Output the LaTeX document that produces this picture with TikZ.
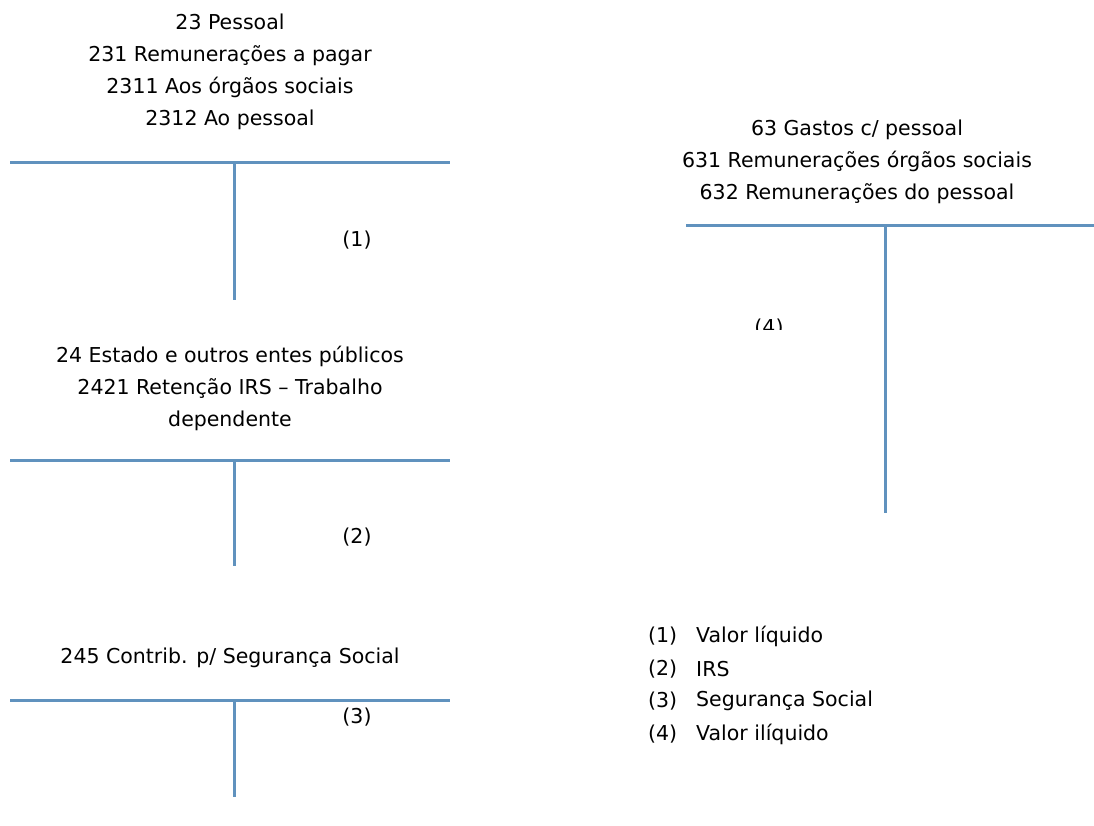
\documentclass[tikz,border=0pt]{standalone}
\usepackage{fontspec}
\setmainfont{DejaVu Sans}
\usetikzlibrary{positioning}
\definecolor{tline}{RGB}{96,146,190}

\begin{document}
\begin{tikzpicture}[x=1pt,y=-1pt,
                    title/.style = {align=center, inner sep=0pt, font=\fontsize{20.5}{32}\selectfont},
                    ref/.style = {inner sep=0pt, font=\fontsize{20.5}{32}\selectfont},
                    tbar/.style = {draw=tline, line width=3pt}]
                        \useasboundingbox (0,0) rectangle (1094,825);

                        % 23 Pessoal
                        \node[title](t23) at (230,72) {23 Pessoal\\231 Remunerações a pagar\\2311 Aos órgãos sociais\\2312 Ao pessoal};
                        \coordinate (l23) at (10,162);\coordinate (r23) at (450,162);
                        \coordinate (m23) at (234,162);\coordinate (b23) at (234,300);
                        \draw[tbar] (l23) -- (r23);\draw[tbar] (m23) -- (b23);
                        \node[ref](c1) at (357,240) {(1)};

                        % 24 Estado
                        \node[title](t24) at (230,388) {24 Estado e outros entes públicos\\2421 Retenção IRS – Trabalho\\dependente};
                        \coordinate (l24) at (10,460);\coordinate (r24) at (450,460);
                        \coordinate (m24) at (234,460);\coordinate (b24) at (234,566);
                        \draw[tbar] (l24) -- (r24);\draw[tbar] (m24) -- (b24);
                        \node[ref](c2) at (357,537) {(2)};

                        % 245 Seguranca Social
                        \node[title](t245) at (230,658) {245 Contrib. p/ Segurança Social};
                        \coordinate (l245) at (10,700);\coordinate (r245) at (450,700);
                        \coordinate (m245) at (234,700);\coordinate (b245) at (234,797);
                        \draw[tbar] (l245) -- (r245);\draw[tbar] (m245) -- (b245);
                        \node[ref](c3) at (357,717) {(3)};

                        % 63 Gastos
                        \node[title](t63) at (857,162) {63 Gastos c/ pessoal\\631 Remunerações órgãos sociais\\632 Remunerações do pessoal};
                        \coordinate (l63) at (686,225);\coordinate (r63) at (1094,225);
                        \coordinate (m63) at (885,225);\coordinate (b63) at (885,513);
                        \draw[tbar] (l63) -- (r63);\draw[tbar] (m63) -- (b63);
                        \begin{scope}
                            \clip (686,300) rectangle (880,329);
                            \node[ref](c4) at (769,328) {(4)};
                        \end{scope}

                        % legenda
                        \node[ref, anchor=west](n1) at (648,636) {(1)};
                        \node[ref, anchor=west](n2) at (648,669) {(2)};
                        \node[ref, anchor=west](n3) at (648,701) {(3)};
                        \node[ref, anchor=west](n4) at (648,734) {(4)};
                        \node[ref, anchor=west](v1) at (696,636) {Valor líquido};
                        \node[ref, anchor=west](v2) at (696,669) {IRS};
                        \node[ref, anchor=west](v3) at (696,701) {Segurança Social};
                        \node[ref, anchor=west](v4) at (696,734) {Valor ilíquido};
                    \end{tikzpicture}
\end{document}
